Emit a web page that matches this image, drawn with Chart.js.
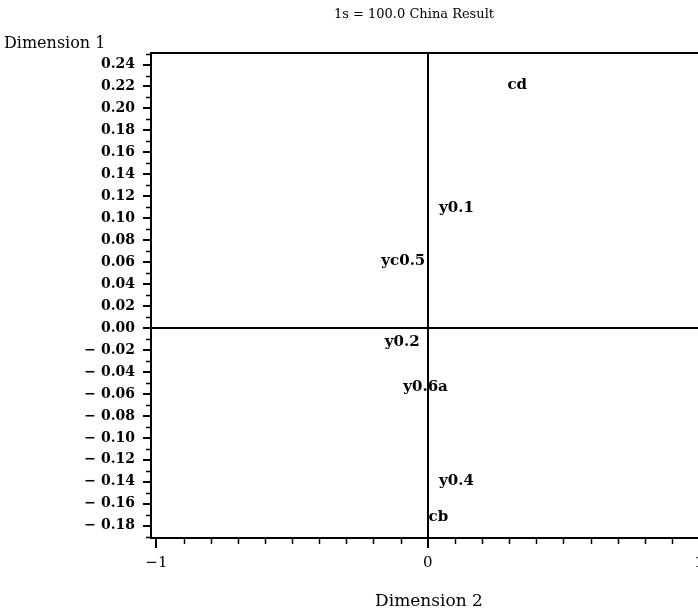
<!DOCTYPE html>
<html>
<head>
<meta charset="utf-8">
<script src="https://cdn.jsdelivr.net/npm/chart.js@4"></script>
<style>
  html, body { margin: 0; padding: 0; background: #fff; overflow: hidden; }
</style>
</head>
<body>
<canvas id="chart" width="740" height="613"></canvas>
<script>
// point labels and their coordinates (Dimension 2 = x, Dimension 1 = y)
const pointLabels = ["cd", "y0.1", "yc0.5", "y0.2", "y0.6a", "y0.4", "cb"];
const dim2Values = [0.33, 0.106, -0.09, -0.094, -0.008, 0.106, 0.039];
const dim1Values = [0.221, 0.109, 0.061, -0.013, -0.054, -0.139, -0.172];

const xTickValues = [-1, 0, 1];
const yTickValues = [0.24, 0.22, 0.20, 0.18, 0.16, 0.14, 0.12, 0.10, 0.08, 0.06, 0.04, 0.02, 0.00,
  -0.02, -0.04, -0.06, -0.08, -0.10, -0.12, -0.14, -0.16, -0.18];

const chartTitle = "1s = 100.0 China Result";
const xTitle = "Dimension 2";
const yTitle = "Dimension 1";

const serif = "'DejaVu Serif', serif";

function fmtY(v) {
  const s = Math.abs(v).toFixed(2);
  return v < -1e-9 ? "\u2212 " + s : s;
}

const decorations = {
  id: "decorations",
  afterDatasetsDraw(chart) {
    const ctx = chart.ctx;
    const area = chart.chartArea;
    const xs = chart.scales.x, ys = chart.scales.y;
    ctx.save();
    ctx.strokeStyle = "#000";
    ctx.lineWidth = 2;
    // top frame line
    ctx.beginPath();
    ctx.moveTo(area.left, area.top);
    ctx.lineTo(area.right, area.top);
    ctx.stroke();
    // minor ticks
    ctx.lineWidth = 1.5;
    for (let i = -10; i <= 10; i++) {
      if (i % 10 === 0) continue;
      const px = Math.round(xs.getPixelForValue(i / 10)) + 0.5;
      ctx.beginPath();
      ctx.moveTo(px, area.bottom);
      ctx.lineTo(px, area.bottom + 6);
      ctx.stroke();
    }
    for (let i = -19; i <= 25; i++) {
      if (i % 2 === 0) continue;
      const py = Math.round(ys.getPixelForValue(i / 100)) + 0.5;
      if (py < area.top || py > area.bottom) continue;
      ctx.beginPath();
      ctx.moveTo(area.left, py);
      ctx.lineTo(area.left - 5, py);
      ctx.stroke();
    }
    // point labels
    const meta = chart.getDatasetMeta(0);
    ctx.fillStyle = "#000";
    ctx.font = "bold 15px " + serif;
    ctx.textAlign = "center";
    ctx.textBaseline = "middle";
    meta.data.forEach((pt, i) => {
      ctx.fillText(pointLabels[i], pt.x, pt.y);
    });
    // titles
    ctx.font = "13px " + serif;
    ctx.fillText(chartTitle, 414, 15);
    ctx.font = "17px " + serif;
    ctx.fillText(xTitle, 429, 602);
    ctx.font = "16px " + serif;
    ctx.textAlign = "left";
    ctx.fillText(yTitle, 4, 44);
    ctx.restore();
  }
};

new Chart(document.getElementById("chart"), {
  type: "scatter",
  data: {
    datasets: [{
      data: dim2Values.map((x, i) => ({ x: x, y: dim1Values[i] })),
      pointRadius: 0,
      pointHoverRadius: 0
    }]
  },
  options: {
    responsive: false,
    animation: false,
    layout: { padding: { top: 53, right: 10, bottom: 0, left: 0 } },
    plugins: { legend: { display: false }, tooltip: { enabled: false }, title: { display: false } },
    scales: {
      x: {
        type: "linear",
        min: -1.02,
        max: 1.114,
        afterBuildTicks: s => { s.ticks = xTickValues.map(v => ({ value: v })); },
        afterFit: s => { s.height = 75; },
        border: { display: true, color: "#000", width: 2 },
        grid: {
          drawOnChartArea: true,
          color: c => (c.tick && c.tick.value === 0 ? "#000" : "rgba(0,0,0,0)"),
          tickColor: "#000",
          lineWidth: 2,
          tickLength: 10
        },
        ticks: {
          color: "#000",
          padding: 6,
          maxRotation: 0,
          autoSkip: false,
          font: { family: serif, size: 15 },
          callback: v => (v < 0 ? "\u2212" + Math.abs(v) : String(v))
        }
      },
      y: {
        type: "linear",
        min: -0.1912,
        max: 0.2505,
        afterBuildTicks: s => { s.ticks = yTickValues.map(v => ({ value: v })); },
        afterFit: s => { s.width = 151; },
        border: { display: true, color: "#000", width: 2 },
        grid: {
          drawOnChartArea: true,
          color: c => (c.tick && Math.abs(c.tick.value) < 1e-9 ? "#000" : "rgba(0,0,0,0)"),
          tickColor: "#000",
          lineWidth: 2,
          tickLength: 8
        },
        ticks: {
          color: "#000",
          padding: 8,
          autoSkip: false,
          font: { family: serif, size: 14, weight: "bold" },
          callback: v => fmtY(v)
        }
      }
    }
  },
  plugins: [decorations]
});
</script>
</body>
</html>
